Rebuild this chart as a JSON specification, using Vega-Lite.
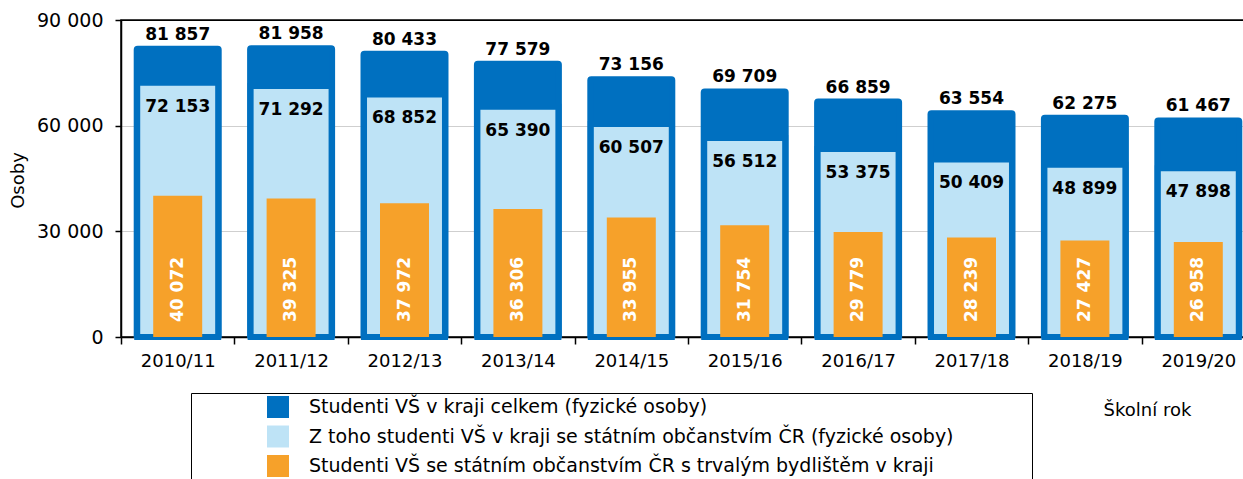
{
  "$schema": "https://vega.github.io/schema/vega-lite/v6.json",
  "width": 1134,
  "height": 317,
  "autosize": "none",
  "padding": {"left": 121, "top": 20, "right": 0, "bottom": 142},
  "background": "white",
  "config": {
    "locale": {"number": {"decimal": ",", "thousands": " ", "grouping": [3], "currency": ["", " Kč"]}},
    "view": {"stroke": "black", "strokeWidth": 1.5},
    "font": "DejaVu Sans"
  },
  "data": {
    "values": [
      {"rok": "2010/11", "serie": "Studenti VŠ v kraji celkem (fyzické osoby)", "hodnota": 81857},
      {"rok": "2011/12", "serie": "Studenti VŠ v kraji celkem (fyzické osoby)", "hodnota": 81958},
      {"rok": "2012/13", "serie": "Studenti VŠ v kraji celkem (fyzické osoby)", "hodnota": 80433},
      {"rok": "2013/14", "serie": "Studenti VŠ v kraji celkem (fyzické osoby)", "hodnota": 77579},
      {"rok": "2014/15", "serie": "Studenti VŠ v kraji celkem (fyzické osoby)", "hodnota": 73156},
      {"rok": "2015/16", "serie": "Studenti VŠ v kraji celkem (fyzické osoby)", "hodnota": 69709},
      {"rok": "2016/17", "serie": "Studenti VŠ v kraji celkem (fyzické osoby)", "hodnota": 66859},
      {"rok": "2017/18", "serie": "Studenti VŠ v kraji celkem (fyzické osoby)", "hodnota": 63554},
      {"rok": "2018/19", "serie": "Studenti VŠ v kraji celkem (fyzické osoby)", "hodnota": 62275},
      {"rok": "2019/20", "serie": "Studenti VŠ v kraji celkem (fyzické osoby)", "hodnota": 61467},
      {"rok": "2010/11", "serie": "Z toho studenti VŠ v kraji se státním občanstvím ČR (fyzické osoby)", "hodnota": 72153},
      {"rok": "2011/12", "serie": "Z toho studenti VŠ v kraji se státním občanstvím ČR (fyzické osoby)", "hodnota": 71292},
      {"rok": "2012/13", "serie": "Z toho studenti VŠ v kraji se státním občanstvím ČR (fyzické osoby)", "hodnota": 68852},
      {"rok": "2013/14", "serie": "Z toho studenti VŠ v kraji se státním občanstvím ČR (fyzické osoby)", "hodnota": 65390},
      {"rok": "2014/15", "serie": "Z toho studenti VŠ v kraji se státním občanstvím ČR (fyzické osoby)", "hodnota": 60507},
      {"rok": "2015/16", "serie": "Z toho studenti VŠ v kraji se státním občanstvím ČR (fyzické osoby)", "hodnota": 56512},
      {"rok": "2016/17", "serie": "Z toho studenti VŠ v kraji se státním občanstvím ČR (fyzické osoby)", "hodnota": 53375},
      {"rok": "2017/18", "serie": "Z toho studenti VŠ v kraji se státním občanstvím ČR (fyzické osoby)", "hodnota": 50409},
      {"rok": "2018/19", "serie": "Z toho studenti VŠ v kraji se státním občanstvím ČR (fyzické osoby)", "hodnota": 48899},
      {"rok": "2019/20", "serie": "Z toho studenti VŠ v kraji se státním občanstvím ČR (fyzické osoby)", "hodnota": 47898},
      {"rok": "2010/11", "serie": "Studenti VŠ se státním občanstvím ČR s trvalým bydlištěm v kraji", "hodnota": 40072},
      {"rok": "2011/12", "serie": "Studenti VŠ se státním občanstvím ČR s trvalým bydlištěm v kraji", "hodnota": 39325},
      {"rok": "2012/13", "serie": "Studenti VŠ se státním občanstvím ČR s trvalým bydlištěm v kraji", "hodnota": 37972},
      {"rok": "2013/14", "serie": "Studenti VŠ se státním občanstvím ČR s trvalým bydlištěm v kraji", "hodnota": 36306},
      {"rok": "2014/15", "serie": "Studenti VŠ se státním občanstvím ČR s trvalým bydlištěm v kraji", "hodnota": 33955},
      {"rok": "2015/16", "serie": "Studenti VŠ se státním občanstvím ČR s trvalým bydlištěm v kraji", "hodnota": 31754},
      {"rok": "2016/17", "serie": "Studenti VŠ se státním občanstvím ČR s trvalým bydlištěm v kraji", "hodnota": 29779},
      {"rok": "2017/18", "serie": "Studenti VŠ se státním občanstvím ČR s trvalým bydlištěm v kraji", "hodnota": 28239},
      {"rok": "2018/19", "serie": "Studenti VŠ se státním občanstvím ČR s trvalým bydlištěm v kraji", "hodnota": 27427},
      {"rok": "2019/20", "serie": "Studenti VŠ se státním občanstvím ČR s trvalým bydlištěm v kraji", "hodnota": 26958}
    ]
  },
  "encoding": {
    "x": {
      "field": "rok", "type": "nominal", "sort": null,
      "scale": {"paddingInner": 0, "paddingOuter": 0},
      "axis": {
        "labelAngle": 0, "labelFontSize": 18, "labelColor": "black", "labelPadding": 8,
        "tickBand": "extent", "tickSize": 7, "tickColor": "black", "tickWidth": 1.5,
        "domainColor": "black", "domainWidth": 1.5,
        "title": "Školní rok", "titleFontSize": 18, "titleFontWeight": "normal", "titleColor": "black",
        "titleX": 1026, "titleY": 73, "titleAlign": "center", "titleBaseline": "middle"
      }
    }
  },
  "layer": [
    {
      "transform": [{"filter": "datum.serie === 'Studenti VŠ v kraji celkem (fyzické osoby)'"}],
      "mark": {"type": "bar", "width": {"band": 0.723}, "cornerRadiusTopLeft": 1, "cornerRadiusTopRight": 1, "stroke": "#0070C0", "strokeWidth": 6},
      "encoding": {
        "y": {
          "field": "hodnota", "type": "quantitative",
          "scale": {"domain": [0, 90000], "nice": false},
          "axis": {
            "values": [0, 30000, 60000, 90000], "format": ",d",
            "labelFontSize": 19, "labelColor": "black", "labelPadding": 12,
            "tickSize": 6, "tickColor": "black", "tickWidth": 1.5,
            "domainColor": "black", "domainWidth": 1.5,
            "grid": true,
            "gridColor": {"condition": {"test": "datum.value === 90000", "value": "black"}, "value": "#cfcfcf"},
            "title": "Osoby", "titleFontSize": 18, "titleFontWeight": "normal", "titleColor": "black",
            "titleX": -103, "titleY": 160, "titleAlign": "center", "titleBaseline": "middle"
          }
        },
        "y2": {"datum": 600},
        "color": {
          "field": "serie", "type": "nominal",
          "scale": {
            "domain": ["Studenti VŠ v kraji celkem (fyzické osoby)", "Z toho studenti VŠ v kraji se státním občanstvím ČR (fyzické osoby)", "Studenti VŠ se státním občanstvím ČR s trvalým bydlištěm v kraji"],
            "range": ["#0070C0", "#BEE3F6", "#F6A12A"]
          },
          "legend": {
            "title": "\u2800\u2800\u2800\u2800\u2800",
            "titleOrient": "right", "titleLimit": 1000, "titleFontSize": 19, "titlePadding": 0,
            "orient": "none", "legendX": 70, "legendY": 373, "direction": "vertical",
            "strokeColor": "black", "padding": 3,
            "symbolType": "square", "symbolSize": 484, "symbolStrokeWidth": 0, "symbolOffset": 73,
            "labelOffset": 20, "labelFontSize": 19, "labelColor": "black", "labelLimit": 1000,
            "rowPadding": 7.5
          }
        }
      }
    },
    {
      "transform": [{"filter": "datum.serie === 'Z toho studenti VŠ v kraji se státním občanstvím ČR (fyzické osoby)'"}],
      "mark": {"type": "bar", "width": {"band": 0.714}, "stroke": "#0070C0", "strokeWidth": 6},
      "encoding": {
        "y": {"field": "hodnota", "type": "quantitative"},
        "color": {"field": "serie", "type": "nominal"}
      }
    },
    {
      "transform": [{"filter": "datum.serie === 'Studenti VŠ se státním občanstvím ČR s trvalým bydlištěm v kraji'"}],
      "mark": {"type": "bar", "width": {"band": 0.432}},
      "encoding": {
        "y": {"field": "hodnota", "type": "quantitative"},
        "color": {"field": "serie", "type": "nominal"}
      }
    },
    {
      "transform": [{"filter": "datum.serie === 'Studenti VŠ v kraji celkem (fyzické osoby)'"}],
      "mark": {"type": "text", "fontSize": 17, "fontWeight": "bold", "color": "black", "baseline": "alphabetic", "dy": -9},
      "encoding": {
        "y": {"field": "hodnota", "type": "quantitative"},
        "text": {"field": "hodnota", "type": "quantitative", "format": ",d"}
      }
    },
    {
      "transform": [{"filter": "datum.serie === 'Z toho studenti VŠ v kraji se státním občanstvím ČR (fyzické osoby)'"}],
      "mark": {"type": "text", "fontSize": 17, "fontWeight": "bold", "color": "black", "baseline": "alphabetic", "dy": 29},
      "encoding": {
        "y": {"field": "hodnota", "type": "quantitative"},
        "text": {"field": "hodnota", "type": "quantitative", "format": ",d"}
      }
    },
    {
      "transform": [{"filter": "datum.serie === 'Studenti VŠ se státním občanstvím ČR s trvalým bydlištěm v kraji'"}],
      "mark": {"type": "text", "fontSize": 17, "fontWeight": "bold", "color": "white", "angle": 270, "align": "center", "baseline": "middle"},
      "encoding": {
        "y": {"datum": 13500},
        "text": {"field": "hodnota", "type": "quantitative", "format": ",d"}
      }
    }
  ]
}
